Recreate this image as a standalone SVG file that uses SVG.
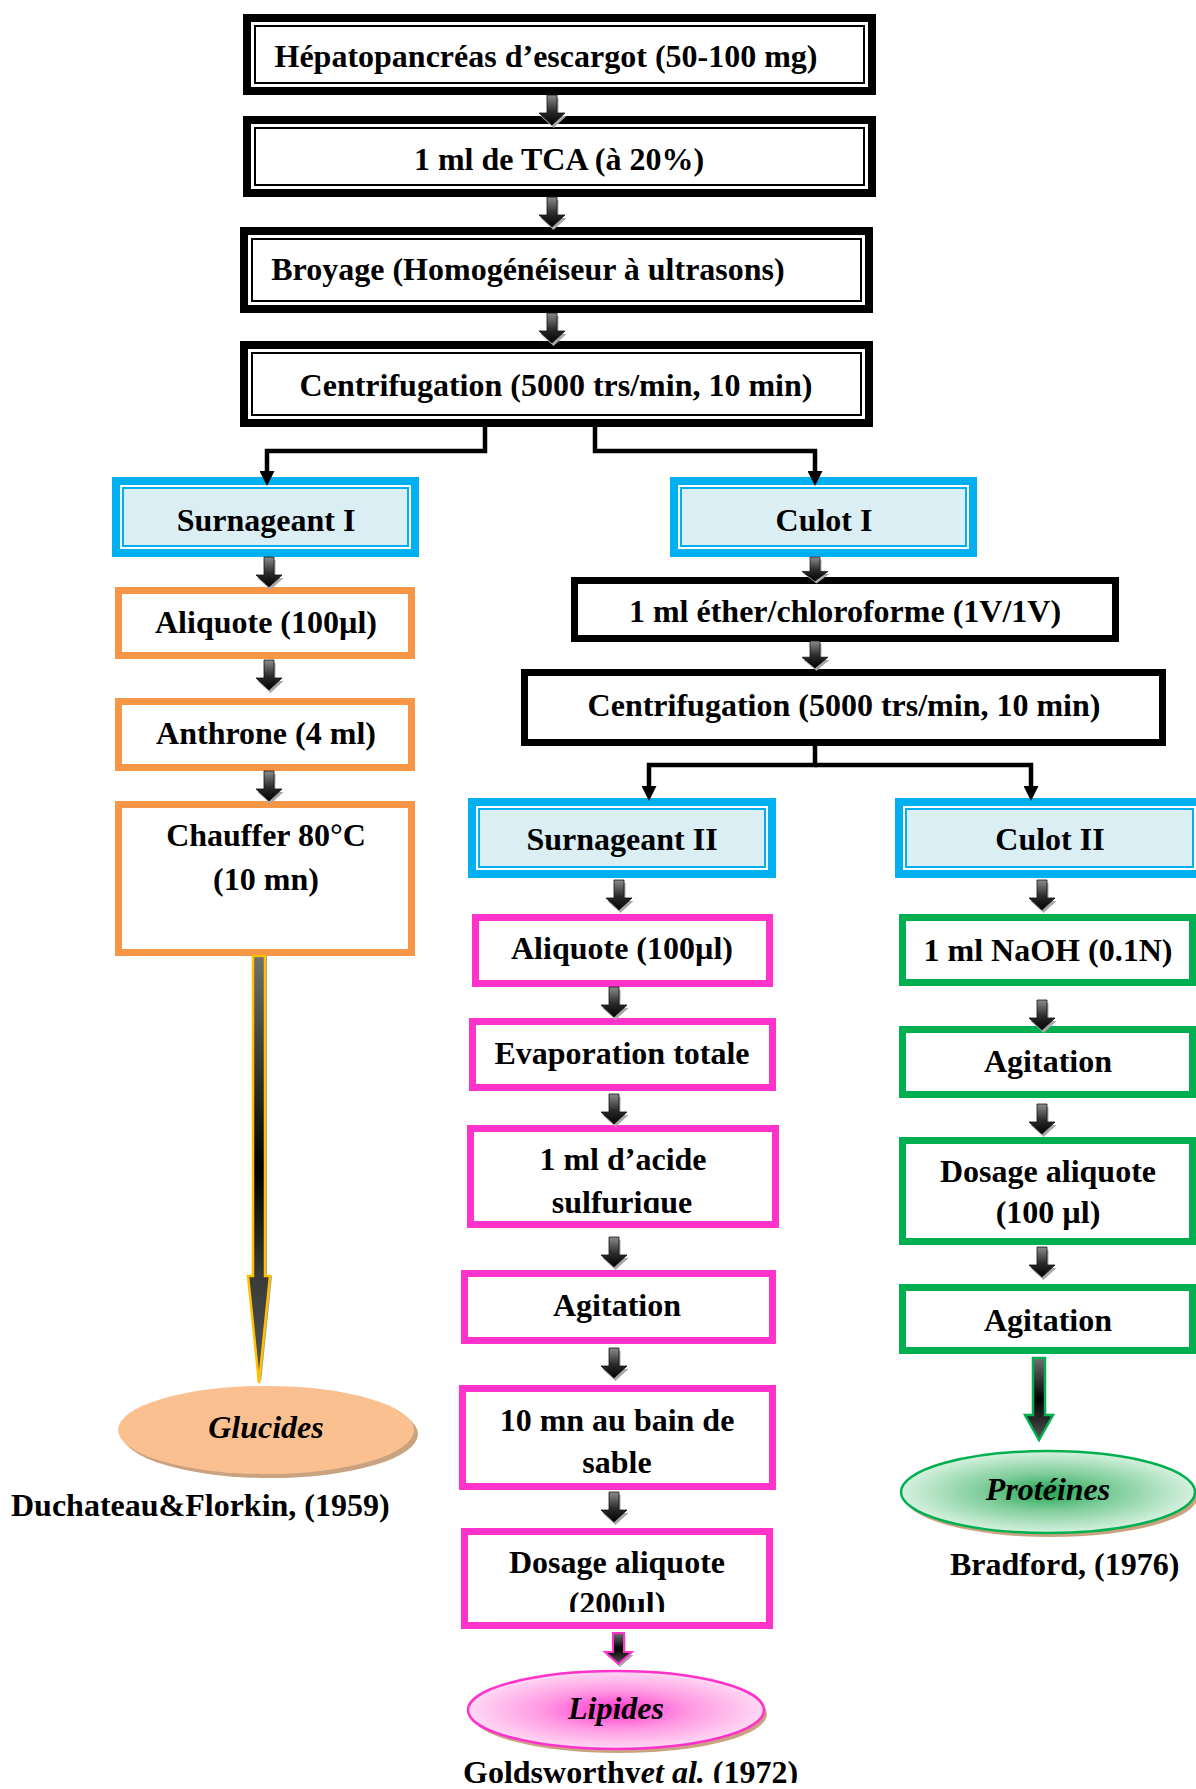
<svg xmlns="http://www.w3.org/2000/svg" xmlns:xlink="http://www.w3.org/1999/xlink" width="1196" height="1789" viewBox="0 0 1196 1789">
<style>
.t{font-family:"Liberation Serif","Times New Roman",serif;font-weight:bold;font-size:32px;fill:#000;text-anchor:middle}
.ti{font-style:italic}
.bk{fill:#fff;stroke:#000;stroke-width:8}
.bki{fill:none;stroke:#000;stroke-width:2}
.cy{fill:#fff;stroke:#00B0F0;stroke-width:8}
.cyi{fill:#DAEEF3;stroke:#00B0F0;stroke-width:2}
.or{fill:#fff;stroke:#F79646;stroke-width:7}
.pk{fill:#fff;stroke:#FF33CC;stroke-width:7}
.gr{fill:#fff;stroke:#00B050;stroke-width:7}
.bs{fill:#fff;stroke:#000;stroke-width:7}
.ln{fill:none;stroke:#000;stroke-width:4.5;marker-end:url(#ah)}
</style>
<defs>
<marker id="ah" viewBox="0 0 10 10" refX="0" refY="5" markerWidth="15" markerHeight="15" markerUnits="userSpaceOnUse" orient="auto"><path d="M0,0 L10,5 L0,10 z" fill="#000"/></marker>
<linearGradient id="gBlk" x1="0" y1="0" x2="0" y2="1"><stop offset="0" stop-color="#8c8c8c"/><stop offset="0.55" stop-color="#2a2a2a"/><stop offset="1" stop-color="#000"/></linearGradient>
<linearGradient id="gLong" gradientUnits="userSpaceOnUse" x1="0" y1="956" x2="0" y2="1383"><stop offset="0" stop-color="#707070"/><stop offset="0.5" stop-color="#000"/><stop offset="0.75" stop-color="#3a3a3a"/><stop offset="1" stop-color="#555"/></linearGradient>
<linearGradient id="gShort" x1="0" y1="0" x2="0" y2="1"><stop offset="0" stop-color="#707070"/><stop offset="0.5" stop-color="#000"/><stop offset="1" stop-color="#555"/></linearGradient>
<radialGradient id="gGreen" cx="0.5" cy="0.5" r="0.5"><stop offset="0" stop-color="#1fa552"/><stop offset="0.45" stop-color="#7fcd9a"/><stop offset="1" stop-color="#d6f1df"/></radialGradient>
<radialGradient id="gPink" cx="0.5" cy="0.5" r="0.5"><stop offset="0" stop-color="#ff33cc"/><stop offset="0.5" stop-color="#ff99e3"/><stop offset="1" stop-color="#ffd9f4"/></radialGradient>
<g id="ba"><path d="M-5,0 H5 V18 H13 L0,30 L-13,18 H-5 Z" fill="#a8a8a8" transform="translate(1.5,3)"/><path d="M-5,0 H5 V18 H13 L0,30 L-13,18 H-5 Z" fill="url(#gBlk)" stroke="#111" stroke-width="0.8"/></g>
<clipPath id="clA"><rect x="0" y="0" width="1196" height="1213"/></clipPath>
<clipPath id="clB"><rect x="0" y="0" width="1196" height="1612"/></clipPath>
<clipPath id="clC"><rect x="0" y="0" width="1196" height="1783"/></clipPath>
</defs>
<rect width="1196" height="1789" fill="#fff"/>

<g id="n_hepato"><rect class="bk" x="247" y="18" width="625" height="73"/><rect class="bki" x="255" y="26" width="609" height="57"/><text class="t" x="546" y="67">Hépatopancréas d’escargot (50-100 mg)</text></g>
<g id="n_tca"><rect class="bk" x="247" y="120" width="625" height="73"/><rect class="bki" x="255" y="128" width="609" height="57"/><text class="t" x="559" y="170">1 ml de TCA (à 20%)</text></g>
<g id="n_broyage"><rect class="bk" x="244" y="231" width="625" height="78"/><rect class="bki" x="252" y="239" width="609" height="62"/><text class="t" x="528" y="280">Broyage (Homogénéiseur à ultrasons)</text></g>
<g id="n_centri1"><rect class="bk" x="244" y="345" width="625" height="78"/><rect class="bki" x="252" y="353" width="609" height="62"/><text class="t" x="556" y="396">Centrifugation (5000 trs/min, 10 min)</text></g>

<g id="n_surn1"><rect class="cy" x="116" y="481" width="299" height="72"/><rect class="cyi" x="123" y="488" width="285" height="58"/><text class="t" x="266" y="531">Surnageant I</text></g>
<g id="n_culot1"><rect class="cy" x="674" y="481" width="299" height="72"/><rect class="cyi" x="681" y="488" width="285" height="58"/><text class="t" x="824" y="531">Culot I</text></g>

<g id="n_aliq1"><rect class="or" x="118.5" y="590.5" width="293" height="65"/><text class="t" x="266" y="633">Aliquote (100µl)</text></g>
<g id="n_anthrone"><rect class="or" x="118.5" y="701.5" width="293" height="66"/><text class="t" x="266" y="744">Anthrone (4 ml)</text></g>
<g id="n_chauffer"><rect class="or" x="118.5" y="804.5" width="293" height="148"/><text class="t" x="266" y="846">Chauffer 80°C</text><text class="t" x="266" y="890">(10 mn)</text></g>

<g id="n_ether"><rect class="bs" x="574.5" y="580.5" width="541" height="58"/><text class="t" x="845" y="622">1 ml éther/chloroforme (1V/1V)</text></g>
<g id="n_centri2"><rect class="bs" x="524.5" y="672.5" width="638" height="70"/><text class="t" x="844" y="716">Centrifugation (5000 trs/min, 10 min)</text></g>

<g id="n_surn2"><rect class="cy" x="472" y="802" width="300" height="72"/><rect class="cyi" x="479" y="809" width="286" height="58"/><text class="t" x="622" y="850">Surnageant II</text></g>
<g id="n_culot2"><rect class="cy" x="899" y="802" width="301" height="72"/><rect class="cyi" x="906" y="809" width="287" height="58"/><text class="t" x="1050" y="850">Culot II</text></g>

<g id="n_aliq2"><rect class="pk" x="475.5" y="917.5" width="294" height="66"/><text class="t" x="622" y="959">Aliquote (100µl)</text></g>
<g id="n_evap"><rect class="pk" x="472.5" y="1021.5" width="300" height="66"/><text class="t" x="622" y="1064">Evaporation totale</text></g>
<g id="n_acide"><rect class="pk" x="470.5" y="1128.5" width="305" height="96"/><text class="t" x="623" y="1170">1 ml d’acide</text><text class="t" x="622" y="1213" clip-path="url(#clA)">sulfurique</text></g>
<g id="n_agit1"><rect class="pk" x="464.5" y="1273.5" width="308" height="67"/><text class="t" x="617" y="1316">Agitation</text></g>
<g id="n_bain"><rect class="pk" x="462.5" y="1388.5" width="310" height="98"/><text class="t" x="617" y="1431">10 mn au bain de</text><text class="t" x="617" y="1473">sable</text></g>
<g id="n_dosage2"><rect class="pk" x="464.5" y="1531.5" width="305" height="94"/><text class="t" x="617" y="1573">Dosage aliquote</text><text class="t" x="617" y="1614" clip-path="url(#clB)">(200µl)</text></g>

<g id="n_naoh"><rect class="gr" x="902.5" y="917.5" width="290" height="65"/><text class="t" x="1048" y="961">1 ml NaOH (0.1N)</text></g>
<g id="n_agit2"><rect class="gr" x="902.5" y="1029.5" width="290" height="65"/><text class="t" x="1048" y="1072">Agitation</text></g>
<g id="n_dosage1"><rect class="gr" x="902.5" y="1140.5" width="290" height="101"/><text class="t" x="1048" y="1182">Dosage aliquote</text><text class="t" x="1048" y="1223">(100 µl)</text></g>
<g id="n_agit3"><rect class="gr" x="902.5" y="1287.5" width="290" height="63"/><text class="t" x="1048" y="1331">Agitation</text></g>

<g id="n_glucides"><ellipse cx="270" cy="1434" rx="148" ry="44" fill="#c9a27f"/><ellipse cx="266" cy="1430" rx="148" ry="44" fill="#FAC090"/><text class="t ti" x="266" y="1438">Glucides</text></g>
<g id="n_ref1"><text class="t" x="11" y="1516" style="text-anchor:start">Duchateau&amp;Florkin, (1959)</text></g>

<g id="n_proteines"><ellipse cx="1051" cy="1496" rx="147" ry="41" fill="#c9a27f"/><ellipse cx="1048" cy="1492" rx="147" ry="41" fill="url(#gGreen)" stroke="#00B050" stroke-width="2.5"/><text class="t ti" x="1048" y="1500">Protéines</text></g>
<g id="n_ref2"><text class="t" x="950" y="1575" style="text-anchor:start">Bradford, (1976)</text></g>

<g id="n_lipides"><ellipse cx="619" cy="1714" rx="148" ry="39" fill="#c9a27f"/><ellipse cx="616" cy="1710" rx="148" ry="39" fill="url(#gPink)" stroke="#FF33CC" stroke-width="2.5"/><text class="t ti" x="616" y="1719">Lipides</text></g>
<g id="n_ref3"><text class="t" x="463" y="1783" style="text-anchor:start" clip-path="url(#clC)">Goldsworthy<tspan style="font-style:italic">et al.</tspan> (1972)</text></g>

<g id="connectors">
<path class="ln" d="M485,427 V451 H267 V471"/>
<path class="ln" d="M595,427 V451 H815 V471"/>
<path class="ln" d="M815,746 V765 H649 V786"/>
<path class="ln" d="M815,765 H1031 V786"/>
<use xlink:href="#ba" href="#ba" transform="translate(552,95)"/>
<use xlink:href="#ba" href="#ba" transform="translate(552,197)"/>
<use xlink:href="#ba" href="#ba" transform="translate(552,313)"/>
<use xlink:href="#ba" href="#ba" transform="translate(269,557)"/>
<use xlink:href="#ba" href="#ba" transform="translate(269,660)"/>
<use xlink:href="#ba" href="#ba" transform="translate(269,771)"/>
<use xlink:href="#ba" href="#ba" transform="translate(815,557) scale(1,0.8)"/>
<use xlink:href="#ba" href="#ba" transform="translate(815,641) scale(1,0.9)"/>
<use xlink:href="#ba" href="#ba" transform="translate(619,880)"/>
<use xlink:href="#ba" href="#ba" transform="translate(614,987)"/>
<use xlink:href="#ba" href="#ba" transform="translate(614,1094)"/>
<use xlink:href="#ba" href="#ba" transform="translate(614,1237)"/>
<use xlink:href="#ba" href="#ba" transform="translate(614,1348)"/>
<use xlink:href="#ba" href="#ba" transform="translate(614,1492)"/>
<use xlink:href="#ba" href="#ba" transform="translate(1042,880)"/>
<use xlink:href="#ba" href="#ba" transform="translate(1042,1000)"/>
<use xlink:href="#ba" href="#ba" transform="translate(1042,1104)"/>
<use xlink:href="#ba" href="#ba" transform="translate(1042,1247)"/>
<path d="M253,956 H265 V1276 H270 L259,1383 L248,1276 H253 Z" fill="#9a9a9a" transform="translate(2,0)"/>
<path d="M253,956 H265 V1276 H270 L259,1383 L248,1276 H253 Z" fill="url(#gLong)" stroke="#FFC000" stroke-width="2.5"/>
<path d="M1033,1358 H1045 V1415 H1053 L1039,1440 L1025,1415 H1033 Z" fill="url(#gShort)" stroke="#00B050" stroke-width="2.5"/>
<path d="M613,1633 H624 V1652 H632 L618.5,1664 L605,1652 H613 Z" fill="#a8a8a8" transform="translate(1.5,3)"/>
<path d="M613,1633 H624 V1652 H632 L618.5,1664 L605,1652 H613 Z" fill="url(#gShort)" stroke="#FF33CC" stroke-width="2"/>
</g>
</svg>
